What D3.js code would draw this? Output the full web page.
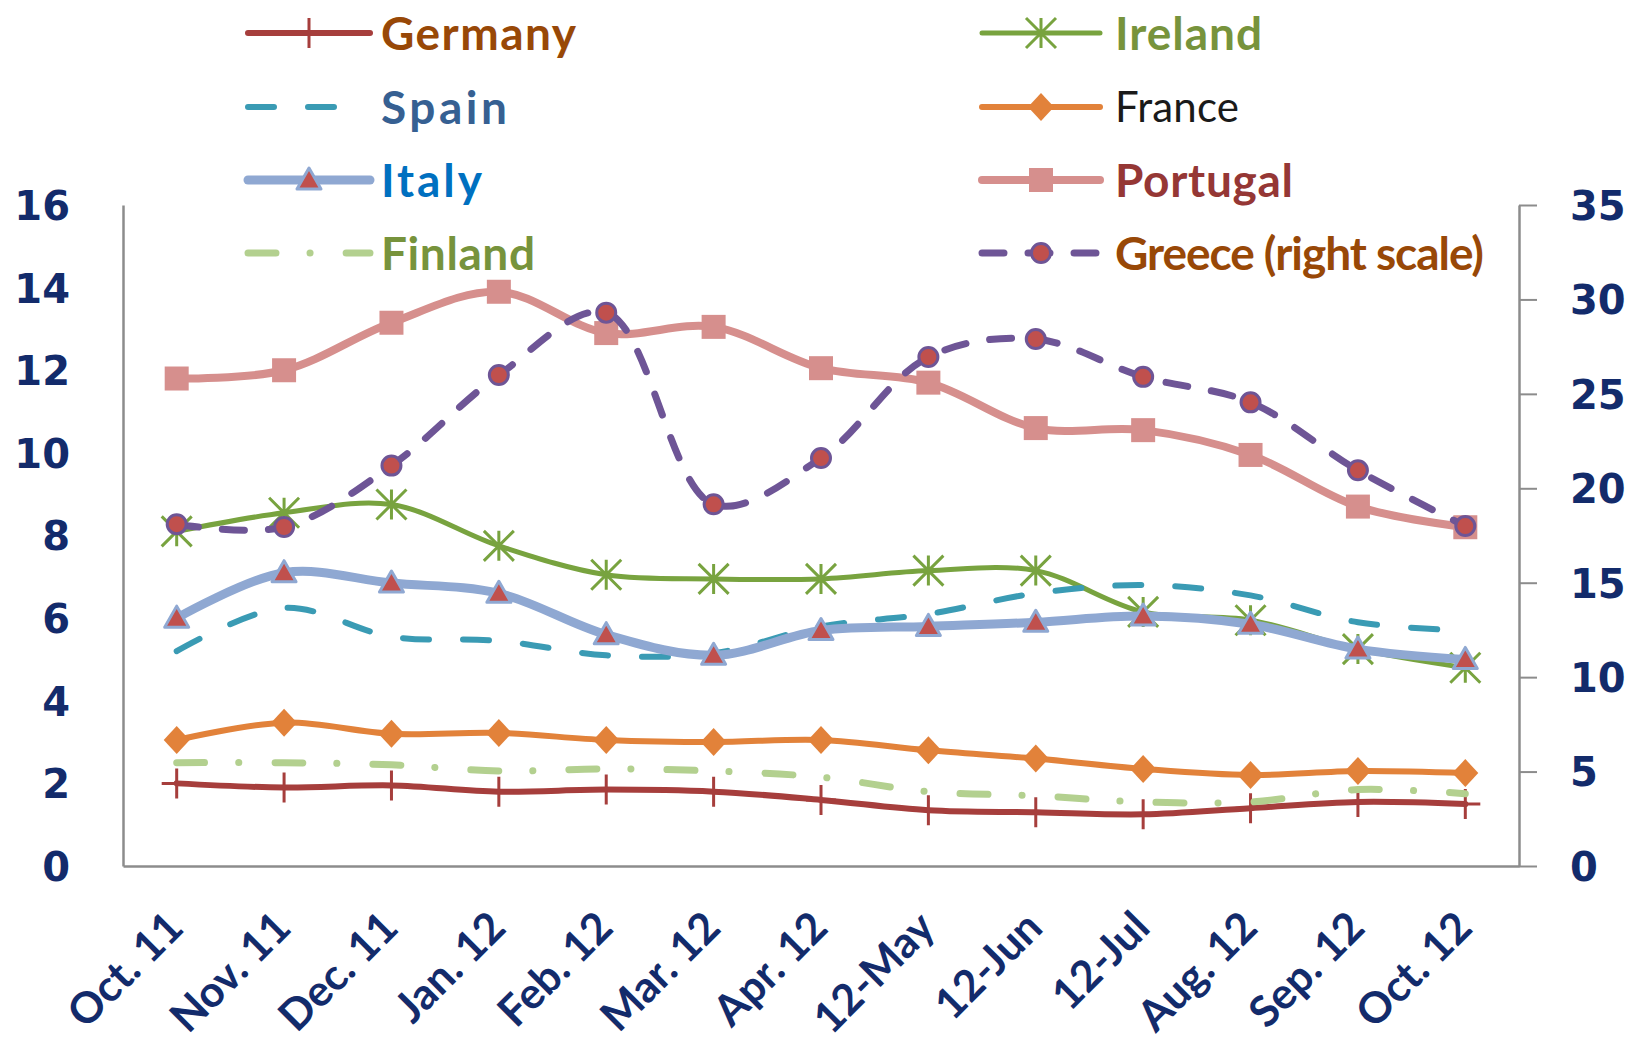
<!DOCTYPE html>
<html>
<head>
<meta charset="utf-8">
<script src="https://cdn.jsdelivr.net/npm/d3@7"></script>
<style>
  html, body { margin: 0; padding: 0; background: #fff; }
  svg { display: block; }
  .ax text { font-family: "DejaVu Sans", sans-serif; font-weight: bold; font-size: 40px; fill: #132b6b; }
  .xax text { font-family: Lato, sans-serif; font-weight: bold; font-size: 43px; fill: #132b6b; }
  .legend text { font-family: Lato, sans-serif; }
</style>
</head>
<body>
<svg id="chart" width="1631" height="1046"></svg>
<script>
// data
const categories = ["Oct. 11", "Nov. 11", "Dec. 11", "Jan. 12", "Feb. 12", "Mar. 12", "Apr. 12",
  "12-May", "12-Jun", "12-Jul", "Aug. 12", "Sep. 12", "Oct. 12"];
const germany  = [2.0, 1.9, 1.95, 1.8, 1.85, 1.8, 1.6, 1.35, 1.3, 1.25, 1.4, 1.55, 1.5];
const ireland  = [8.1, 8.55, 8.75, 7.75, 7.05, 6.95, 6.95, 7.15, 7.15, 6.15, 5.95, 5.25, 4.8];
const spain    = [5.2, 6.25, 5.55, 5.45, 5.1, 5.15, 5.8, 6.1, 6.6, 6.8, 6.55, 5.9, 5.7];
const france   = [3.05, 3.47, 3.2, 3.22, 3.05, 3.0, 3.05, 2.8, 2.6, 2.35, 2.2, 2.3, 2.25];
const italy    = [6.0, 7.1, 6.85, 6.6, 5.6, 5.1, 5.7, 5.8, 5.9, 6.05, 5.85, 5.25, 5.0];
const portugal = [11.8, 12.0, 13.15, 13.9, 12.9, 13.05, 12.05, 11.7, 10.6, 10.55, 9.95, 8.7, 8.2];
const finland  = [2.5, 2.5, 2.45, 2.3, 2.35, 2.3, 2.15, 1.8, 1.7, 1.55, 1.55, 1.85, 1.75];
const greece   = [18.1, 17.95, 21.2, 26.0, 29.3, 19.15, 21.6, 26.95, 27.9, 25.9, 24.55, 20.95, 18.0];
const leftTicks = [0, 2, 4, 6, 8, 10, 12, 14, 16];
const rightTicks = [0, 5, 10, 15, 20, 25, 30, 35];

const series = [
  { name: "Germany", values: germany, axis: "L", line: "#a63e3c", width: 6, label: "#984807", bold: true, marker: "plus", tl: 195 },
  { name: "Ireland", values: ireland, axis: "L", line: "#78a33f", width: 5, label: "#77933c", bold: true, marker: "star", tl: 147 },
  { name: "Spain", values: spain, axis: "L", line: "#3a9bb4", width: 6, dash: "26,34", label: "#366092", bold: true, marker: null, tl: 126, legendEnd: 345 },
  { name: "France", values: france, axis: "L", line: "#e2823a", width: 6, label: "#1a1a1a", bold: false, marker: "diamond", tl: 124 },
  { name: "Italy", values: italy, axis: "L", line: "#8fa8d2", width: 9, label: "#0070c0", bold: true, marker: "triangle", tl: 101 },
  { name: "Portugal", values: portugal, axis: "L", line: "#d68f8d", width: 8, label: "#953735", bold: true, marker: "square", tl: 178 },
  { name: "Finland", values: finland, axis: "L", line: "#b3d08f", width: 7, dash: "28,34,0.1,36", label: "#77933c", bold: true, marker: null, tl: 154 },
  { name: "Greece (right scale)", values: greece, axis: "R", line: "#6e5596", width: 7, dash: "22,24", label: "#984807", bold: true, marker: "circle", tl: 369 }
];

const svg = d3.select("#chart");
const plotLeft = 123, plotRight = 1519, plotTop = 205, plotBottom = 866;

const x = d3.scaleBand().domain(categories).range([plotLeft, plotRight]);
const cx = c => x(c) + x.bandwidth() / 2;
const yL = d3.scaleLinear().domain([0, 16]).range([plotBottom, plotTop]);
const yR = d3.scaleLinear().domain([0, 35]).range([plotBottom, plotTop]);

// axes
const gl = svg.append("g").attr("class", "ax")
  .attr("transform", `translate(${plotLeft},0)`)
  .call(d3.axisLeft(yL).tickValues(leftTicks).tickSize(0).tickPadding(53));
const gr = svg.append("g").attr("class", "ax")
  .attr("transform", `translate(${plotRight},0)`)
  .call(d3.axisRight(yR).tickValues(rightTicks).tickSize(18).tickSizeOuter(0).tickPadding(33));
const gb = svg.append("g").attr("class", "xax")
  .attr("transform", `translate(0,${plotBottom})`)
  .call(d3.axisBottom(x).tickSize(0).tickSizeOuter(0));
[gl, gr, gb].forEach(g => {
  g.select(".domain").attr("stroke", "#8c8c8c").attr("stroke-width", 2.5);
  g.selectAll(".tick line").attr("stroke", "#8c8c8c").attr("stroke-width", 2);
});
gl.selectAll("text").attr("dy", "0.36em");
gr.selectAll("text").attr("dy", "0.36em");
gb.selectAll("text")
  .attr("y", 0).attr("dy", null)
  .attr("text-anchor", "end")
  .attr("transform", "translate(9,64) rotate(-45)");

// marker shapes
function drawMarker(g, type, s) {
  if (type === "plus") {
    g.append("path").attr("d", "M0,-15V15M-15,0H15")
      .attr("stroke", s.line).attr("stroke-width", 3).attr("fill", "none");
  } else if (type === "star") {
    g.append("path").attr("d", "M0,-15V15M-15,-15L15,15M-15,15L15,-15")
      .attr("stroke", s.line).attr("stroke-width", 3).attr("fill", "none");
  } else if (type === "diamond") {
    g.append("path").attr("d", "M0,-14L13,0L0,14L-13,0Z").attr("fill", s.line);
  } else if (type === "triangle") {
    g.append("path").attr("d", "M0,-12L12,9L-12,9Z")
      .attr("fill", "#c0504d").attr("stroke", s.line).attr("stroke-width", 3).attr("stroke-linejoin", "round");
  } else if (type === "square") {
    g.append("rect").attr("x", -12).attr("y", -12).attr("width", 24).attr("height", 24).attr("fill", s.line);
  } else if (type === "circle") {
    g.append("circle").attr("r", 9.5).attr("fill", "#c0504d").attr("stroke", s.line).attr("stroke-width", 3);
  }
}

// series
const plot = svg.append("g");
series.forEach(s => {
  const yy = s.axis === "R" ? yR : yL;
  const line = d3.line()
    .x((d, i) => cx(categories[i]))
    .y(d => yy(d))
    .curve(d3.curveCatmullRom.alpha(0.5));
  const g = plot.append("g");
  g.append("path")
    .attr("d", line(s.values))
    .attr("fill", "none")
    .attr("stroke", s.line)
    .attr("stroke-width", s.width)
    .attr("stroke-linecap", "round")
    .attr("stroke-linejoin", "round")
    .attr("stroke-dasharray", s.dash || null);
  if (s.marker) {
    s.values.forEach((v, i) => {
      const m = g.append("g").attr("transform", `translate(${cx(categories[i])},${yy(v)})`);
      drawMarker(m, s.marker, s);
    });
  }
});

// legend, two columns
const lx0 = [248, 982], lx1 = [370, 1100], tx = [381, 1115];
const ly = [33, 107, 180, 253];
const legend = svg.append("g").attr("class", "legend");
series.forEach((s, i) => {
  const col = i % 2, row = Math.floor(i / 2);
  const g = legend.append("g");
  g.append("line")
    .attr("x1", lx0[col]).attr("x2", s.legendEnd || lx1[col])
    .attr("y1", ly[row]).attr("y2", ly[row])
    .attr("stroke", s.line).attr("stroke-width", s.width)
    .attr("stroke-linecap", "round")
    .attr("stroke-dasharray", s.dash || null);
  if (s.marker) {
    const m = g.append("g").attr("transform", `translate(${(lx0[col] + lx1[col]) / 2},${ly[row]})`);
    drawMarker(m, s.marker, s);
  }
  g.append("text")
    .attr("x", tx[col]).attr("y", ly[row]).attr("dy", "0.36em")
    .attr("fill", s.label)
    .attr("font-size", s.bold ? 46 : 42)
    .attr("font-weight", s.bold ? "bold" : "normal")
    .attr("textLength", s.tl)
    .attr("lengthAdjust", "spacing")
    .text(s.name);
});
</script>
</body>
</html>
